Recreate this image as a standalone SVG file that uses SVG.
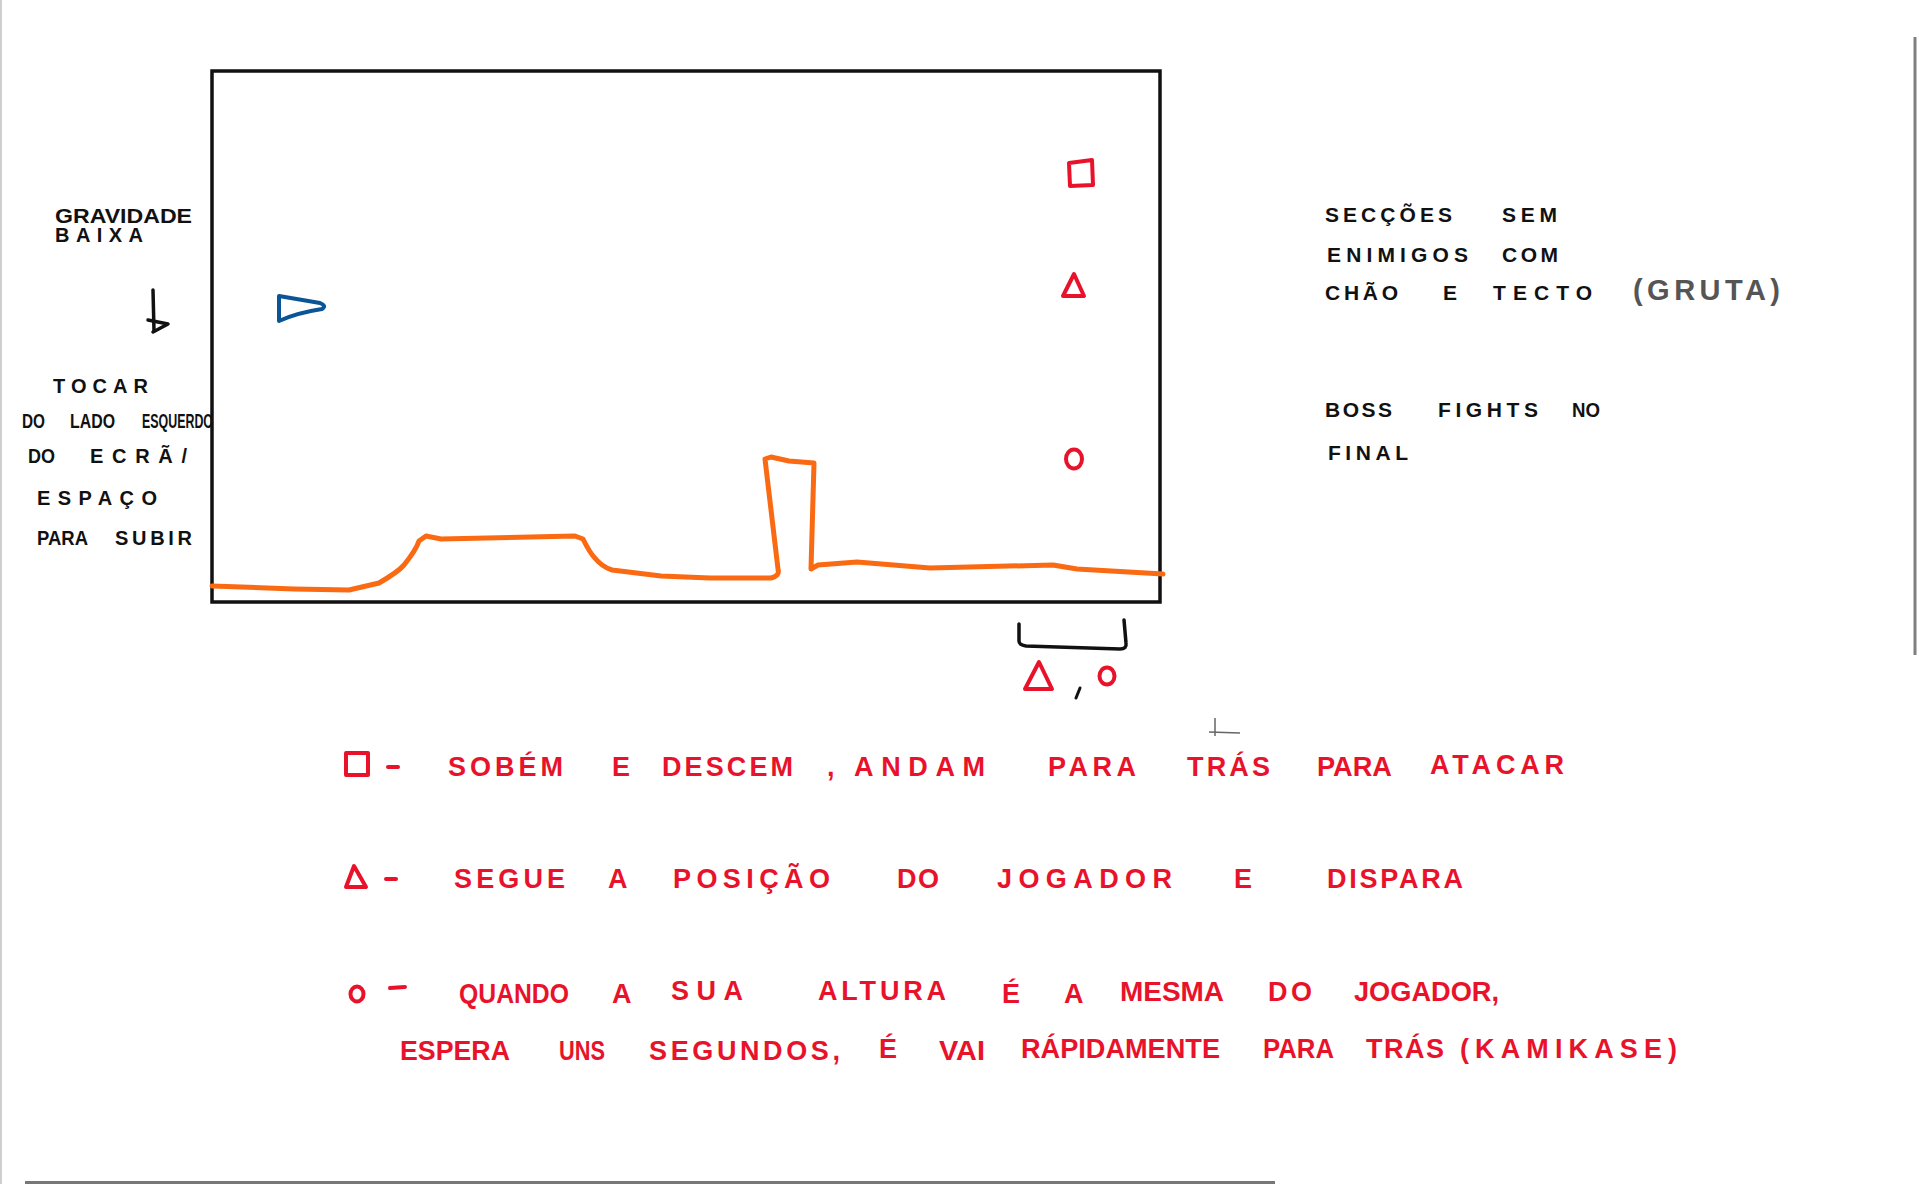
<svg xmlns="http://www.w3.org/2000/svg" width="1919" height="1184" viewBox="0 0 1919 1184">
<style>
text{font-family:"Liberation Sans",Arial,sans-serif;font-weight:bold}
.blk{fill:#111;font-size:20px}
.rt{fill:#111;font-size:21px}
.red{fill:#E8132B;font-size:27px}
.redS{fill:none;stroke:#E8132B;stroke-width:4;stroke-linejoin:round;stroke-linecap:round}
.ink{fill:none;stroke:#111;stroke-linecap:round;stroke-linejoin:round}
</style>
<rect x="0" y="0" width="1919" height="1184" fill="#fff"/>
<g id="page-chrome">
<line x1="1" y1="0" x2="1" y2="1184" stroke="#cfcfcf" stroke-width="2"/>
<line x1="1915" y1="37" x2="1915" y2="655" stroke="#808080" stroke-width="3"/>
<line x1="25" y1="1182.5" x2="1275" y2="1182.5" stroke="#777" stroke-width="3"/>
</g>
<g id="screen-frame">
<rect x="212" y="71" width="948" height="531" fill="none" stroke="#111" stroke-width="3.5"/>
</g>
<g id="ground">
<path d="M212,586 L294,589 L349,590 L379,583 Q398,572 404,565 Q416,550 419,541 L426,536 L441,539 L575,536 L583,539 Q590,553 594,557 Q602,567 612,570 L661,576 L710,578 L771,578 Q780,576 778,569 L765,459 L771,457 L789,461 L814,463 L811,569 L818,565 L857,562 L930,568 L1053,565 L1077,569 L1163,574" fill="none" stroke="#F96A12" stroke-width="5" stroke-linejoin="round" stroke-linecap="round"/>
</g>
<g id="player">
<path d="M279,296 L279,321 Q296,313 322,309 Q327,306 320,303 Z" fill="none" stroke="#0A5596" stroke-width="4" stroke-linejoin="round"/>
</g>
<g id="enemy-square">
<path d="M1069,163 L1092,160 L1093,185 L1070,186 Z" class="redS"/>
</g>
<g id="enemy-triangle">
<path d="M1074,274 L1084,296 L1063,296 Z" class="redS"/>
</g>
<g id="enemy-circle">
<ellipse cx="1074" cy="459" rx="8" ry="9.5" class="redS"/>
</g>
<g id="spawn-marker">
<path d="M1019,624 L1019,641 Q1019,645 1026,646 L1120,649 Q1127,649 1126,643 L1124,620" class="ink" stroke-width="3.5"/>
<path d="M1039,662 L1052,689 L1025,689 Z" class="redS" stroke-width="4.5"/>
<line x1="1080" y1="688" x2="1076" y2="698" class="ink" stroke-width="3"/>
<ellipse cx="1107" cy="676" rx="7.5" ry="8.5" class="redS"/>
</g>
<g id="connectors">
<line x1="153" y1="290" x2="154" y2="331" class="ink" stroke-width="3.5"/>
<path d="M148,320 L168,324 L153,332" class="ink" stroke-width="3.5"/>
<path d="M1215,718 L1215,736 M1209,732 L1240,733" fill="none" stroke="#666" stroke-width="1.5"/>
</g>
<g id="left-notes">
<text class="blk" x="55" y="223" textLength="137" lengthAdjust="spacingAndGlyphs">GRAVIDADE</text>
<text class="blk" x="55" y="242" font-size="18" textLength="88" lengthAdjust="spacing">BAIXA</text>
<text class="blk" x="53" y="393" textLength="95" lengthAdjust="spacing">TOCAR</text>
<text class="blk" x="22" y="428" textLength="23" lengthAdjust="spacingAndGlyphs">DO</text>
<text class="blk" x="70" y="428" textLength="45" lengthAdjust="spacingAndGlyphs">LADO</text>
<text class="blk" x="142" y="428" font-size="16" textLength="71" lengthAdjust="spacingAndGlyphs">ESQUERDO</text>
<text class="blk" x="28" y="463" textLength="27" lengthAdjust="spacingAndGlyphs">DO</text>
<text class="blk" x="90" y="463" textLength="97" lengthAdjust="spacing">ECRÃ/</text>
<text class="blk" x="37" y="505" font-size="23" textLength="120" lengthAdjust="spacing">ESPAÇO</text>
<text class="blk" x="37" y="545" textLength="51" lengthAdjust="spacingAndGlyphs">PARA</text>
<text class="blk" x="115" y="545" textLength="77" lengthAdjust="spacing">SUBIR</text>
</g>
<g id="right-notes">
<text class="rt" x="1325" y="222" textLength="127" lengthAdjust="spacing">SECÇÕES</text>
<text class="rt" x="1502" y="222" textLength="55" lengthAdjust="spacing">SEM</text>
<text class="rt" x="1327" y="262" textLength="141" lengthAdjust="spacing">ENIMIGOS</text>
<text class="rt" x="1502" y="262" textLength="56" lengthAdjust="spacing">COM</text>
<text class="rt" x="1325" y="300" textLength="73" lengthAdjust="spacing">CHÃO</text>
<text class="rt" x="1443" y="300">E</text>
<text class="rt" x="1493" y="300" textLength="99" lengthAdjust="spacing">TECTO</text>
<text x="1633" y="300" font-size="29" font-weight="normal" fill="#555" textLength="147" lengthAdjust="spacing">(GRUTA)</text>
<text class="rt" x="1325" y="417" textLength="67" lengthAdjust="spacing">BOSS</text>
<text class="rt" x="1438" y="417" textLength="100" lengthAdjust="spacing">FIGHTS</text>
<text class="rt" x="1572" y="417" textLength="28" lengthAdjust="spacingAndGlyphs">NO</text>
<text class="rt" x="1328" y="460" textLength="80" lengthAdjust="spacing">FINAL</text>
</g>
<g id="legend-square">
<rect x="346" y="753" width="22" height="22" class="redS"/>
<line x1="388" y1="767" x2="398" y2="767" class="redS"/>
<text class="red" x="448" y="776" textLength="115" lengthAdjust="spacing">SOBÉM</text>
<text class="red" x="612" y="776">E</text>
<text class="red" x="662" y="776" textLength="131" lengthAdjust="spacing">DESCEM</text>
<text class="red" x="827" y="776">,</text>
<text class="red" x="854" y="776" textLength="131" lengthAdjust="spacing">ANDAM</text>
<text class="red" x="1048" y="776" textLength="88" lengthAdjust="spacing">PARA</text>
<text class="red" x="1187" y="776" textLength="83" lengthAdjust="spacing">TRÁS</text>
<text class="red" x="1317" y="776" textLength="75" lengthAdjust="spacingAndGlyphs">PARA</text>
<text class="red" x="1430" y="774" textLength="134" lengthAdjust="spacing">ATACAR</text>
</g>
<g id="legend-triangle">
<path d="M354,866 L366,887 L346,887 Z" class="redS"/>
<line x1="386" y1="879" x2="396" y2="879" class="redS"/>
<text class="red" x="454" y="888" textLength="111" lengthAdjust="spacing">SEGUE</text>
<text class="red" x="608" y="888">A</text>
<text class="red" x="673" y="888" textLength="157" lengthAdjust="spacing">POSIÇÃO</text>
<text class="red" x="897" y="888" textLength="42" lengthAdjust="spacing">DO</text>
<text class="red" x="997" y="888" textLength="175" lengthAdjust="spacing">JOGADOR</text>
<text class="red" x="1234" y="888">E</text>
<text class="red" x="1327" y="888" textLength="136" lengthAdjust="spacing">DISPARA</text>
</g>
<g id="legend-circle">
<ellipse cx="357" cy="994" rx="6.5" ry="7.5" class="redS"/>
<line x1="390" y1="988" x2="405" y2="987" class="redS"/>
<text class="red" x="459" y="1003" textLength="110" lengthAdjust="spacingAndGlyphs">QUANDO</text>
<text class="red" x="612" y="1003">A</text>
<text class="red" x="671" y="1000" textLength="72" lengthAdjust="spacing">SUA</text>
<text class="red" x="818" y="1000" textLength="128" lengthAdjust="spacing">ALTURA</text>
<text class="red" x="1002" y="1003">É</text>
<text class="red" x="1064" y="1003">A</text>
<text class="red" x="1120" y="1001" textLength="104" lengthAdjust="spacingAndGlyphs">MESMA</text>
<text class="red" x="1268" y="1001" textLength="44" lengthAdjust="spacing">DO</text>
<text class="red" x="1354" y="1001" textLength="145" lengthAdjust="spacingAndGlyphs">JOGADOR,</text>
<text class="red" x="400" y="1060" textLength="110" lengthAdjust="spacingAndGlyphs">ESPERA</text>
<text class="red" x="559" y="1060" textLength="46" lengthAdjust="spacingAndGlyphs">UNS</text>
<text class="red" x="649" y="1060" textLength="191" lengthAdjust="spacing">SEGUNDOS,</text>
<text class="red" x="879" y="1058">É</text>
<text class="red" x="939" y="1060" textLength="46" lengthAdjust="spacingAndGlyphs">VAI</text>
<text class="red" x="1021" y="1058" textLength="199" lengthAdjust="spacingAndGlyphs">RÁPIDAMENTE</text>
<text class="red" x="1263" y="1058" textLength="71" lengthAdjust="spacingAndGlyphs">PARA</text>
<text class="red" x="1366" y="1058" textLength="78" lengthAdjust="spacing">TRÁS</text>
<text class="red" x="1460" y="1058" textLength="217" lengthAdjust="spacing">(KAMIKASE)</text>
</g>
</svg>
